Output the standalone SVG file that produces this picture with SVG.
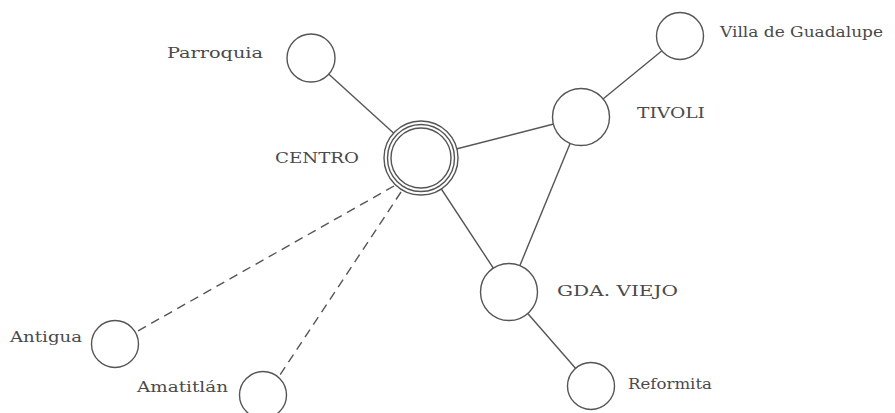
<svg xmlns="http://www.w3.org/2000/svg" width="895" height="413" viewBox="0 0 895 413">
<style>
.n{fill:#fff;stroke:#555;stroke-width:1.4}
.c{stroke:#555;stroke-width:1.4;fill:none}
.d{stroke-dasharray:9 6}
text{font-family:"DejaVu Serif","Liberation Serif",serif;font-size:15.5px;fill:#4a4a4a}
</style>
<rect width="895" height="413" fill="#fff"/>
<g id="connectors">
<line class="c" x1="311" y1="58" x2="421" y2="158"/>
<line class="c" x1="421" y1="158" x2="581" y2="117"/>
<line class="c" x1="581" y1="117" x2="680" y2="36"/>
<line class="c" x1="581" y1="117" x2="509" y2="292"/>
<line class="c" x1="421" y1="158" x2="509" y2="292"/>
<line class="c" x1="509" y1="292" x2="591" y2="386"/>
<line class="c d" x1="394" y1="186" x2="136" y2="332"/>
<line class="c d" x1="401" y1="192" x2="278" y2="378"/>
</g>
<g id="centro">
<circle class="n" cx="421" cy="158" r="37"/>
<circle class="n" cx="421" cy="158" r="33.5"/>
<circle class="n" cx="421" cy="158" r="30"/>
<text x="275" y="163" textLength="84" lengthAdjust="spacingAndGlyphs">CENTRO</text>
</g>
<g id="parroquia">
<circle class="n" cx="311" cy="58" r="24"/>
<text x="167" y="58" textLength="96" lengthAdjust="spacingAndGlyphs">Parroquia</text>
</g>
<g id="villa">
<circle class="n" cx="680" cy="36" r="23.5"/>
<text x="720" y="37" textLength="163" lengthAdjust="spacingAndGlyphs">Villa de Guadalupe</text>
</g>
<g id="tivoli">
<circle class="n" cx="581" cy="117" r="28.5"/>
<text x="637" y="118" textLength="68" lengthAdjust="spacingAndGlyphs">TIVOLI</text>
</g>
<g id="gdaviejo">
<circle class="n" cx="509" cy="292" r="28.5"/>
<text x="557" y="296" textLength="121" lengthAdjust="spacingAndGlyphs">GDA. VIEJO</text>
</g>
<g id="reformita">
<circle class="n" cx="591" cy="386" r="23.5"/>
<text x="628" y="389" textLength="84" lengthAdjust="spacingAndGlyphs">Reformita</text>
</g>
<g id="antigua">
<circle class="n" cx="115" cy="344" r="23.5"/>
<text x="10" y="342" textLength="72" lengthAdjust="spacingAndGlyphs">Antigua</text>
</g>
<g id="amatitlan">
<circle class="n" cx="263" cy="395" r="23.5"/>
<text x="137" y="392" textLength="91" lengthAdjust="spacingAndGlyphs">Amatitlán</text>
</g>
</svg>
